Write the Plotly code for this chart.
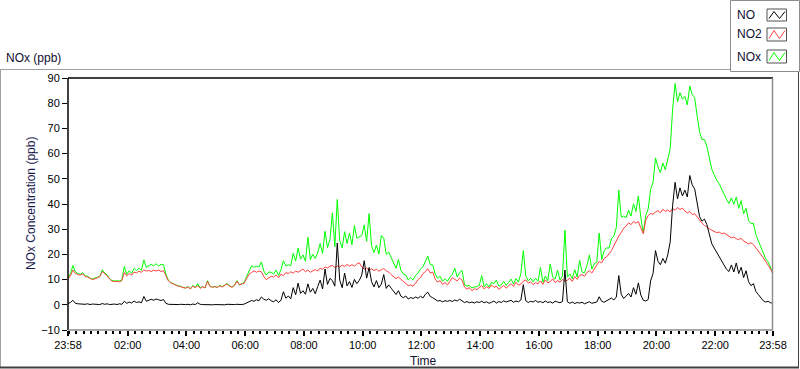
import plotly.graph_objects as go

# ---------------- data (5-minute samples, minutes after 00:00; starts 23:58) -------------
times = list(range(-2, 1439, 5))

no = [
    0.5, 0.9, 1.8, 0.6, 0.4, 0.3, 0.5, 0.2, 0.4, 0.1, 0.3, 0.2,
    0.3, 0.1, 0.5, 0.2, 0.4, 0.1, 0.2, 0.3, 0.1, 0.4, 0.2, 1.4,
    0.6, 1.1, 0.7, 1.5, 0.9, 1.2, 0.8, 3.3, 1.4, 1.9, 2.2, 1.8,
    2.3, 2.0, 1.7, 2.1, 0.6, 0.2, 0.1, 0.2, 0.0, 0.1, 0.2, 0.0,
    0.1, 0.2, 0.0, 0.3, 0.1, 0.8, 0.2, 0.1, 0.0, 0.2, 0.1, 0.0,
    0.1, 0.0, 0.2, 0.1, 0.0, 0.2, 0.1, 0.0, 0.1, 0.2, 0.0, 0.1,
    0.3, 0.8, 1.2, 1.7, 1.4, 2.0, 1.6, 3.1, 2.2, 1.8, 2.4, 1.6,
    1.2, 2.0, 0.9, 1.8, 5.2, 2.6, 3.5, 2.4, 6.8, 4.0, 8.6, 4.5,
    5.6, 4.2, 8.3, 5.0, 6.5, 4.4, 7.2, 9.8, 6.3, 14.2, 8.1, 10.5,
    9.6, 7.4, 24.5, 9.8, 6.8, 12.6, 7.5, 9.2, 6.9, 10.1, 8.4, 9.7,
    11.8, 17.5, 10.6, 14.8, 9.2, 7.1, 9.6, 6.8, 8.2, 12.0, 6.5, 7.9,
    6.6, 5.2, 4.1, 5.6, 3.4, 2.8, 3.5, 2.3, 2.9, 2.5, 3.1, 2.6,
    3.4, 2.7, 4.2, 5.0, 3.3, 2.8, 2.0, 1.5, 1.7, 1.2, 1.6, 1.4,
    1.7, 1.3, 1.9, 1.5, 2.2, 1.4, 0.9, 1.3, 0.8, 1.1, 0.7, 1.2,
    0.9, 1.4, 0.8, 1.2, 0.6, 1.0, 1.5, 0.7, 1.3, 0.9, 1.6, 1.1,
    1.3, 1.8, 1.0, 1.5, 1.2, 1.9, 8.0, 1.6, 0.9, 1.4, 1.1, 1.7,
    1.0, 1.3, 0.8, 1.5, 0.9, 1.2, 0.7, 1.4, 1.1, 0.8, 1.3, 13.8,
    1.2, 0.6, 1.1, 0.5, 0.9, 0.7, 1.0, 0.4, 0.8, 1.2, 0.6, 0.9,
    1.1, 3.2, 1.4, 1.0, 1.6, 2.3, 2.7, 1.9, 3.1, 11.6, 4.2, 2.5,
    3.4, 4.5, 3.1, 6.8, 4.2, 8.7, 3.9, 1.8, 1.5, 2.1, 9.5, 12.4,
    21.5, 17.3, 15.9, 18.4, 16.5, 19.8, 25.0, 39.5, 48.6, 42.0, 46.4, 43.2,
    45.5, 42.8, 51.3, 47.6, 46.0, 40.2, 35.0, 33.2, 34.0, 31.8, 27.4, 24.2,
    22.5, 20.8, 19.2, 17.6, 15.4, 14.1, 13.2, 15.8, 13.0, 16.6, 12.4, 14.9,
    10.8, 13.5, 9.2, 7.6, 8.4, 5.3, 4.1, 2.7, 1.6, 1.1, 1.4, 0.8,
    0.6,
]

no2 = [
    10.2, 11.5, 13.8, 12.5, 12.0, 11.8, 12.3, 11.2, 11.0, 10.4, 10.0, 10.3,
    10.6, 11.2, 13.2, 12.4, 11.5, 10.2, 9.4, 9.2, 9.3, 9.1, 9.6, 12.8,
    11.5, 12.4, 11.8, 13.0, 12.7, 13.3, 12.9, 13.8, 13.4, 13.6, 13.2, 13.7,
    13.4, 13.8, 13.2, 13.6, 11.6, 9.5, 8.7, 8.2, 7.9, 7.4, 7.2, 6.8,
    6.6, 7.1, 6.3, 7.4, 6.8, 7.6, 6.5, 7.2, 6.7, 9.4, 7.3, 7.0,
    7.2, 6.9, 7.5, 7.1, 7.8, 8.3, 7.4, 7.0, 7.6, 9.4, 7.9, 8.2,
    8.6, 10.5, 12.2, 12.8, 13.5, 12.9, 13.4, 13.1, 11.2, 10.0, 10.6, 11.3,
    11.0, 11.8, 10.7, 12.2, 11.5, 12.8, 12.4, 13.1, 12.6, 13.4, 12.9, 13.6,
    14.2, 13.1, 13.8, 12.9, 13.6, 14.0, 13.4, 14.5, 14.1, 15.0, 14.6, 15.3,
    15.6, 14.8, 15.4, 15.0, 15.8, 15.2, 16.0, 15.4, 15.9, 15.3, 16.2, 16.7,
    15.0, 14.2, 14.6, 13.8, 14.3, 13.6, 14.1, 13.3, 13.9, 14.4, 13.5, 13.0,
    12.0, 11.2, 10.4, 11.0, 10.2, 9.4, 8.3, 7.6, 7.9, 7.4, 8.6, 10.0,
    10.8, 12.4, 13.2, 14.3, 12.6, 13.0, 10.2, 9.0, 9.6, 8.1, 8.8, 7.9,
    9.3, 10.8, 10.1, 9.5, 10.6, 9.7, 7.0, 6.2, 6.8, 5.6, 6.4, 6.0,
    6.8, 7.6, 6.3, 7.2, 6.5, 7.9, 6.9, 7.4, 6.1, 7.0, 7.7, 6.6,
    7.6, 8.4, 7.3, 8.9, 7.8, 8.2, 9.4, 9.9, 8.6, 9.1, 8.0, 8.8,
    8.3, 9.5, 8.1, 9.9, 8.7, 9.2, 10.3, 8.8, 9.6, 9.0, 10.1, 9.4,
    9.8, 10.6, 9.3, 11.2, 10.1, 11.6, 12.0, 11.3, 12.8, 13.5, 12.6, 14.4,
    15.8, 17.2, 16.6, 18.4, 19.0, 20.2, 21.5, 23.4, 25.6, 27.3, 28.7, 30.4,
    31.2, 32.5, 31.8, 33.1, 32.4, 33.0, 30.6, 28.2, 33.5, 35.4, 36.2, 36.0,
    36.8, 37.4, 36.5, 37.9, 37.1, 37.6, 36.9, 38.2, 37.5, 38.6, 37.8, 38.4,
    37.2, 36.5, 37.0, 35.8, 36.2, 34.9, 33.6, 32.4, 31.5, 31.0, 30.2, 29.6,
    29.1, 28.6, 28.9, 28.2, 28.5, 27.8, 27.0, 26.6, 26.9, 26.2, 25.9, 26.4,
    25.3, 24.8, 24.2, 24.6, 23.9, 22.6, 21.3, 20.4, 18.7, 17.2, 15.6, 14.2,
    12.0,
]

nox = [
    10.7, 12.4, 15.6, 13.1, 12.4, 12.1, 12.8, 11.4, 11.4, 10.5, 10.3, 10.5,
    10.9, 11.3, 13.9, 12.6, 11.9, 10.3, 9.6, 9.5, 9.4, 9.5, 9.8, 15.2,
    12.1, 13.5, 12.5, 14.5, 13.6, 14.5, 13.7, 17.8, 14.8, 15.5, 16.1, 15.5,
    16.3, 15.4, 16.1, 15.9, 12.2, 9.7, 8.8, 8.4, 7.9, 7.5, 7.4, 6.8,
    6.7, 7.3, 6.3, 7.7, 6.9, 8.4, 6.7, 7.3, 6.7, 9.6, 7.4, 7.0,
    7.3, 6.9, 7.7, 7.2, 7.8, 8.5, 7.5, 7.0, 7.7, 9.6, 7.9, 8.3,
    8.9, 11.3, 13.4, 15.5, 14.9, 15.3, 15.0, 17.0, 13.4, 11.8, 13.0, 12.9,
    12.2, 13.8, 11.6, 14.0, 17.5, 15.4, 15.9, 15.5, 20.4, 17.4, 22.5, 18.1,
    19.8, 17.3, 26.8, 17.9, 20.1, 18.4, 20.6, 24.3, 20.4, 29.2, 22.7, 25.8,
    36.5, 23.0, 41.8, 25.5, 22.6, 29.0, 24.3, 28.5, 23.8, 31.5, 26.4, 27.0,
    27.5, 31.7, 25.2, 36.2, 23.5, 20.7, 23.7, 20.1, 27.5, 26.4, 20.0, 20.9,
    18.6, 16.4, 14.5, 18.0, 13.6, 12.2, 11.8, 9.9, 10.8, 9.9, 11.7, 12.6,
    14.2, 15.1, 17.4, 19.3, 15.9, 15.8, 12.2, 10.5, 11.3, 9.3, 10.4, 9.3,
    11.0, 12.1, 14.5, 11.0, 12.8, 13.6, 7.9, 7.5, 7.6, 6.7, 7.1, 7.2,
    7.7, 11.6, 7.1, 8.4, 7.1, 8.9, 8.4, 9.8, 7.4, 7.9, 9.3, 7.7,
    8.9, 10.2, 8.3, 10.4, 9.0, 12.4, 21.5, 11.5, 9.5, 10.5, 9.1, 10.5,
    9.3, 14.8, 8.9, 11.4, 9.6, 16.2, 11.0, 10.2, 13.7, 9.8, 11.4, 29.6,
    11.0, 12.2, 10.4, 13.9, 11.0, 17.6, 13.0, 12.7, 15.6, 19.8, 14.2, 16.3,
    16.9, 28.5, 18.0, 21.4, 22.6, 22.5, 26.2, 27.3, 30.7, 45.5, 34.9, 35.2,
    34.6, 37.5, 35.2, 40.1, 37.0, 43.2, 34.8, 28.4, 35.4, 38.0, 45.8, 48.6,
    58.3, 54.7, 52.4, 56.3, 53.6, 57.4, 61.9, 77.7, 87.8, 80.6, 84.2, 81.6,
    82.7, 79.3, 86.8, 83.4, 82.2, 75.1, 68.6, 65.6, 65.5, 62.8, 57.6, 53.8,
    51.6, 49.4, 48.1, 45.8, 43.9, 41.9, 40.2, 42.4, 39.9, 42.8, 38.3, 41.3,
    36.1, 38.3, 33.4, 32.2, 32.3, 27.9, 25.4, 23.1, 20.3, 18.3, 17.0, 15.0,
    12.6,
]

tick_minutes = [-2, 120, 240, 360, 480, 600, 720, 840, 960, 1080, 1200, 1320, 1438]
tick_labels = ["23:58", "02:00", "04:00", "06:00", "08:00", "10:00", "12:00",
               "14:00", "16:00", "18:00", "20:00", "22:00", "23:58"]
y_ticks = [-10, 0, 10, 20, 30, 40, 50, 60, 70, 80, 90]

series_names = ["NO", "NO2", "NOx"]
series_colors = ["#000000", "#ff4040", "#00ff00"]

# ---------------- layout geometry ----------------
W, H = 800, 369
L, R, T, B = 68, 27, 78, 39
PW, PH = W - L - R, H - T - B
FONT = "Liberation Sans"


def X(px):
    return (px - L) / PW


def Y(py):
    return (H - B - py) / PH


fig = go.Figure()
for name, vals, col in [("NOx", nox, series_colors[2]),
                        ("NO2", no2, series_colors[1]),
                        ("NO", no, series_colors[0])]:
    fig.add_trace(go.Scatter(x=times, y=vals, mode="lines", name=name,
                             line=dict(color=col, width=1), showlegend=False))

shapes = []


def line(x0, y0, x1, y1, color, width=1):
    shapes.append(dict(type="line", xref="paper", yref="paper",
                       x0=X(x0), y0=Y(y0), x1=X(x1), y1=Y(y1),
                       line=dict(color=color, width=width), layer="above"))


# outer frame
line(0, 69.5, 731, 69.5, "#a0a0a0")
line(0.5, 69.5, 0.5, 368, "#a0a0a0")
line(0, 367.5, 799, 367.5, "#404040", 2)
line(798.5, 71, 798.5, 368, "#404040")
# plot area border
line(L, T, L + PW, T, "#000000", 1.5)
line(L, T, L, T + PH, "#000000", 1.5)
line(L + PW - 0.5, T, L + PW - 0.5, T + PH, "#8c8c8c", 1.5)
line(L, T + PH, L + PW, T + PH, "#8c8c8c", 1.5)

# legend box
shapes.append(dict(type="rect", xref="paper", yref="paper",
                   x0=X(730.5), y0=Y(0.5), x1=X(799.5), y1=Y(71.5),
                   line=dict(color="#8c8c8c", width=1), fillcolor="white", layer="above"))
annotations = []
legend_rows = [(9, 21), (28, 41), (50, 63)]
for (top, bot), name, col in zip(legend_rows, series_names, series_colors):
    shapes.append(dict(type="rect", xref="paper", yref="paper",
                       x0=X(767), y0=Y(top), x1=X(786.5), y1=Y(bot),
                       line=dict(color="#505050", width=1), fillcolor="white", layer="above"))
    lo, hi = bot - 2.5, top + 2.5
    pts = [(769, lo), (774, hi), (779.5, lo), (785, hi)]
    path = "M " + " L ".join(f"{X(a)},{Y(b)}" for a, b in pts)
    shapes.append(dict(type="path", xref="paper", yref="paper", path=path,
                       line=dict(color=col, width=1), layer="above"))
    annotations.append(dict(text=name, xref="paper", yref="paper", x=X(735), y=Y((top + bot) / 2),
                            xanchor="left", yanchor="middle", showarrow=False,
                            font=dict(family=FONT, size=12, color="#101030")))

annotations.append(dict(text="NOx (ppb)", xref="paper", yref="paper", x=X(4), y=Y(58),
                        xanchor="left", yanchor="middle", showarrow=False,
                        font=dict(family=FONT, size=12, color="#101030")))
annotations.append(dict(text="NOx Concentration (ppb)", xref="paper", yref="paper",
                        x=X(31), y=Y(204), textangle=-90, xanchor="center", yanchor="middle",
                        showarrow=False, font=dict(family=FONT, size=12, color="#1a1a50")))
annotations.append(dict(text="Time", xref="paper", yref="paper", x=X(424), y=Y(361),
                        xanchor="center", yanchor="middle", showarrow=False,
                        font=dict(family=FONT, size=12, color="#101030")))

fig.update_layout(
    width=W, height=H,
    margin=dict(l=L, r=R, t=T, b=B),
    paper_bgcolor="white", plot_bgcolor="white",
    shapes=shapes, annotations=annotations,
    xaxis=dict(range=[-2, 1438], tickmode="array", tickvals=tick_minutes, ticktext=tick_labels,
               ticks="outside", ticklen=5, tickwidth=1.5, tickcolor="#000000",
               showgrid=False, zeroline=False, showline=False,
               tickfont=dict(family=FONT, size=11, color="#000000"),
               minor=dict(ticks="outside", ticklen=3, tickwidth=1.5, tickcolor="#000000",
                          tickmode="linear", tick0=0, dtick=15, showgrid=False)),
    yaxis=dict(range=[-10, 90], tickmode="array", tickvals=y_ticks,
               ticks="outside", ticklen=5, tickwidth=1, tickcolor="#000000",
               showgrid=False, zeroline=False, showline=False,
               tickfont=dict(family=FONT, size=11, color="#000000")),
)

fig.write_html("out.html", config={"displayModeBar": False},
               post_script="document.body.style.margin='0';document.body.style.padding='0';"
                           "document.documentElement.style.overflow='hidden';")
